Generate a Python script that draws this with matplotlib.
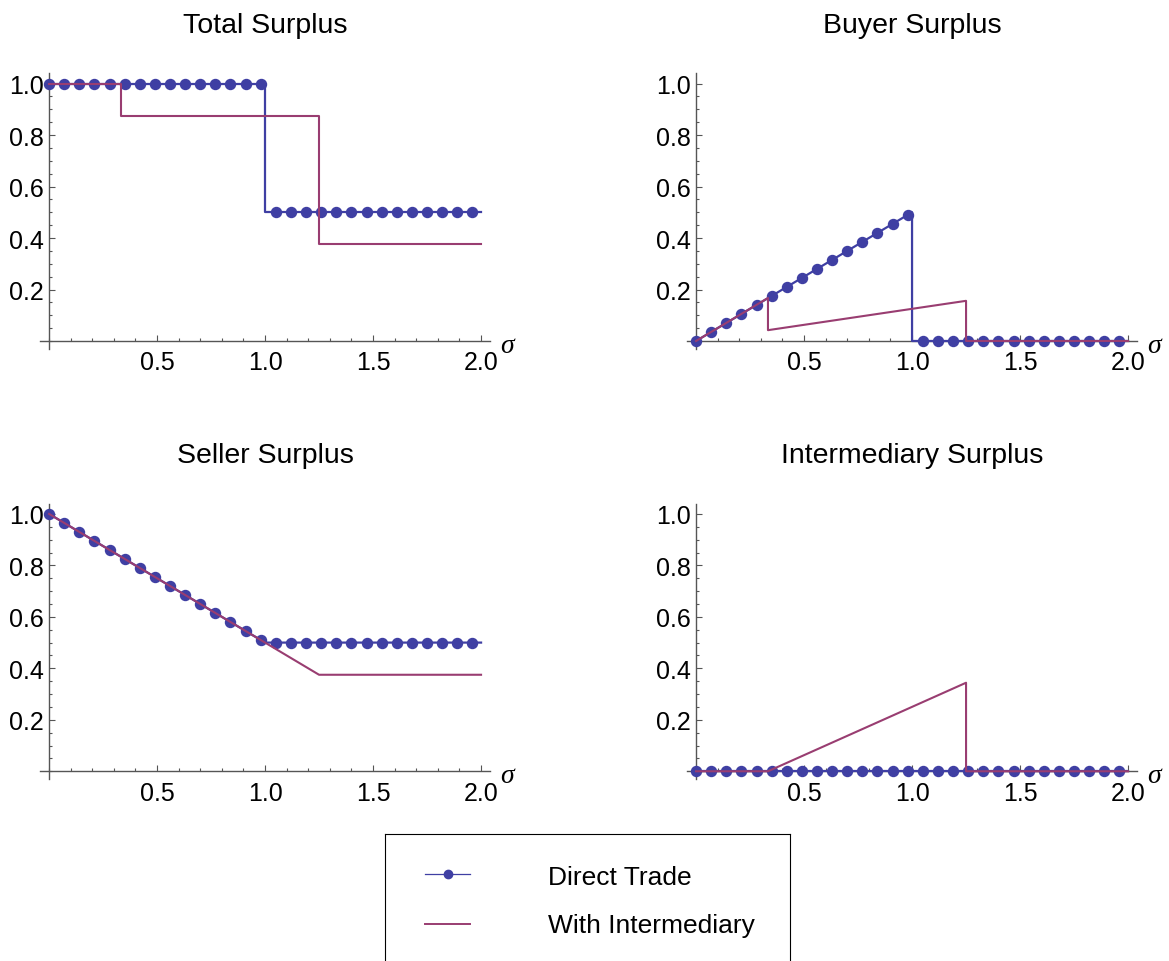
import matplotlib
matplotlib.use("Agg")
import matplotlib.pyplot as plt
from matplotlib.ticker import FixedLocator, MultipleLocator, FormatStrFormatter

plt.rcParams['font.family'] = ['Liberation Sans', 'DejaVu Sans']

W, H = 1169, 962
BLUE = '#3f3fa3'
PURPLE = '#993d71'
AXIS = '#555555'

titles = ['Total Surplus', 'Buyer Surplus', 'Seller Surplus', 'Intermediary Surplus']

# sigma values where the direct-trade markers sit
sigma_pts = [0.0, 0.07, 0.14, 0.21, 0.28, 0.35, 0.42, 0.49, 0.56, 0.63, 0.70, 0.77, 0.84, 0.91,
             0.98, 1.05, 1.12, 1.19, 1.26, 1.33, 1.40, 1.47, 1.54, 1.61, 1.68, 1.75, 1.82, 1.89, 1.96]

total_direct_pts = [1.0] * 15 + [0.5] * 14
buyer_direct_pts = [0.0, 0.035, 0.07, 0.105, 0.14, 0.175, 0.21, 0.245, 0.28, 0.315, 0.35, 0.385,
                    0.42, 0.455, 0.49] + [0.0] * 14
seller_direct_pts = [1.0, 0.965, 0.93, 0.895, 0.86, 0.825, 0.79, 0.755, 0.72, 0.685, 0.65, 0.615,
                     0.58, 0.545, 0.51] + [0.5] * 14
inter_direct_pts = [0.0] * 29

# direct trade curves (breakpoints)
total_direct_x = [0.0, 1.0, 1.0, 2.0]
total_direct_y = [1.0, 1.0, 0.5, 0.5]
buyer_direct_x = [0.0, 1.0, 1.0, 2.0]
buyer_direct_y = [0.0, 0.5, 0.0, 0.0]
seller_direct_x = [0.0, 1.0, 2.0]
seller_direct_y = [1.0, 0.5, 0.5]
inter_direct_x = [0.0, 2.0]
inter_direct_y = [0.0, 0.0]

# with intermediary curves (breakpoints)
total_inter_x = [0.0, 0.333, 0.333, 1.25, 1.25, 2.0]
total_inter_y = [1.0, 1.0, 0.875, 0.875, 0.375, 0.375]
buyer_inter_x = [0.0, 0.333, 0.333, 1.25, 1.25, 2.0]
buyer_inter_y = [0.0, 0.167, 0.042, 0.156, 0.0, 0.0]
seller_inter_x = [0.0, 1.25, 2.0]
seller_inter_y = [1.0, 0.375, 0.375]
inter_inter_x = [0.0, 0.333, 1.25, 1.25, 2.0]
inter_inter_y = [0.0, 0.0, 0.344, 0.0, 0.0]

panels = [
    (total_direct_x, total_direct_y, total_direct_pts, total_inter_x, total_inter_y),
    (buyer_direct_x, buyer_direct_y, buyer_direct_pts, buyer_inter_x, buyer_inter_y),
    (seller_direct_x, seller_direct_y, seller_direct_pts, seller_inter_x, seller_inter_y),
    (inter_direct_x, inter_direct_y, inter_direct_pts, inter_inter_x, inter_inter_y),
]

# axes boxes in pixels: left, top, right, bottom
boxes = [(40.4, 74.3, 489.7, 349.7), (687.4, 74.3, 1136.7, 349.7),
         (40.4, 504.6, 489.7, 780.0), (687.4, 504.6, 1136.7, 780.0)]

fig = plt.figure(figsize=(W / 100, H / 100), dpi=100)

for (dx, dy, dpts, ix, iy), title, (l, t, r, b) in zip(panels, titles, boxes):
    ax = fig.add_axes([l / W, 1 - b / H, (r - l) / W, (b - t) / H])
    ax.set_xlim(-0.04, 2.04)
    ax.set_ylim(-0.03, 1.04)
    for s in ['top', 'right']:
        ax.spines[s].set_visible(False)
    for s in ['left', 'bottom']:
        ax.spines[s].set_position(('data', 0))
        ax.spines[s].set_color(AXIS)
        ax.spines[s].set_linewidth(1.0)
    ax.xaxis.set_major_locator(FixedLocator([0.5, 1.0, 1.5, 2.0]))
    ax.xaxis.set_minor_locator(MultipleLocator(0.1))
    ax.yaxis.set_major_locator(FixedLocator([0.2, 0.4, 0.6, 0.8, 1.0]))
    ax.yaxis.set_minor_locator(MultipleLocator(0.05))
    ax.xaxis.set_major_formatter(FormatStrFormatter('%.1f'))
    ax.yaxis.set_major_formatter(FormatStrFormatter('%.1f'))
    ax.tick_params(which='both', direction='in', color=AXIS, width=0.8, labelsize=18)
    ax.tick_params(which='major', length=4.5)
    ax.tick_params(which='minor', length=2.5)
    ax.tick_params(axis='x', pad=6.8)
    ax.tick_params(axis='y', pad=3.5)

    ax.plot(dx, dy, color=BLUE, lw=1.6, zorder=3, clip_on=False)
    ax.plot(sigma_pts, dpts, 'o', ms=7.2, color=BLUE, mec=BLUE, zorder=3, clip_on=False)
    ax.plot(ix, iy, color=PURPLE, lw=1.5, zorder=4, clip_on=False)

    ax.set_title(title, fontsize=20.5, pad=30)
    ax.annotate('σ', xy=(2.04, 0), xycoords='data', xytext=(10, -11),
                textcoords='offset pixels', ha='left', va='baseline',
                fontsize=20, family='Liberation Serif', style='italic')

# legend box at the bottom
lg = fig.add_axes([385 / W, 0, 405 / W, 127 / H])
lg.set_xlim(0, 405)
lg.set_ylim(127, 0)
lg.set_xticks([])
lg.set_yticks([])
lg.spines['bottom'].set_visible(False)
for s in ['top', 'left', 'right']:
    lg.spines[s].set_color('black')
    lg.spines[s].set_linewidth(0.8)
lg.plot([40, 85], [40, 40], color=BLUE, lw=0.9)
lg.plot([62.5], [40], 'o', color=BLUE, ms=6)
lg.plot([40, 85], [90, 90], color=PURPLE, lw=1.4)
lg.text(163, 50, 'Direct Trade', fontsize=19, va='baseline', ha='left')
lg.text(163, 98, 'With Intermediary', fontsize=19, va='baseline', ha='left')

fig.savefig('out.png', dpi=100)
